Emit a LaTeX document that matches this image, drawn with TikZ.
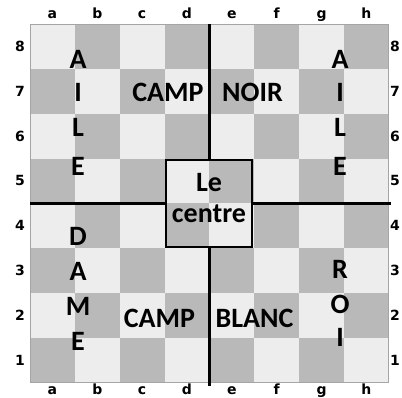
\documentclass[tikz,border=0pt]{standalone}
\usepackage{fontspec}
\newfontfamily\carlitofont{Carlito}
\newfontfamily\labfont{DejaVu Sans}
\definecolor{sqlight}{HTML}{EDEDED}
\definecolor{sqdark}{HTML}{B9B9B9}
\definecolor{rimgrey}{HTML}{A5A5A5}
\begin{document}
\begin{tikzpicture}[x=1pt,y=-1pt,
  big/.style={font=\carlitofont\bfseries\fontsize{28}{34}\selectfont, inner sep=0pt, anchor=base},
  coordlab/.style={font=\labfont\bfseries\fontsize{14}{16}\selectfont, inner sep=0pt, anchor=base},
  divider/.style={line width=3pt, black},
  centrebox/.style={draw=black, line width=1.6pt}]
\useasboundingbox (0,0) rectangle (402,398);
\clip (0,0) rectangle (402,398);
\fill[white] (0,0) rectangle (402,398);
\def\sq{44.85}
% board squares
\foreach \i in {0,...,7}{
  \foreach \r in {0,...,7}{
    \pgfmathtruncatemacro{\sqparity}{mod(\i+\r,2)}
    \ifnum\sqparity=1
      \fill[sqdark] ({30+\i*\sq},{24+\r*\sq}) rectangle ++(\sq,\sq);
    \else
      \fill[sqlight] ({30+\i*\sq},{24+\r*\sq}) rectangle ++(\sq,\sq);
    \fi
  }
}
\draw[rimgrey, line width=0.8pt] (30,24) rectangle ({30+8*\sq},{24+8*\sq});
% file and rank labels
\foreach \f [count=\k from 0] in {a,b,c,d,e,f,g,h}{
  \node[coordlab] (top\f) at ({30+(\k+0.5)*\sq},19) {\f};
  \node[coordlab] (bot\f) at ({30+(\k+0.5)*\sq},394) {\f};
}
\foreach \n in {1,...,8}{
  \node[coordlab] (left\n) at (20,{24+(8.5-\n)*\sq+5}) {\n};
  \node[coordlab] (right\n) at (395,{24+(8.5-\n)*\sq+5}) {\n};
}
% centre box
\node[centrebox, minimum width=86pt, minimum height=87pt, inner sep=0pt] (box) at (209,203.5) {};
\coordinate (vtop) at (209.4,24);
\coordinate (vbot) at (209.4,386);
\coordinate (hleft) at (30,203.4);
\coordinate (hright) at (391,203.4);
\draw[divider] (vtop) -- (vtop |- box.north);
\draw[divider] (vbot |- box.south) -- (vbot);
\draw[divider] (hleft) -- (hleft -| box.west);
\draw[divider] (hright -| box.east) -- (hright);
\node[big] (le) at (209,192) {Le};
\node[big] (centre) at (209,223) {centre};
% camp labels
\node[big] (campn) at (168,102) {CAMP};
\node[big] (noir) at (252.5,102) {NOIR};
\node[big] (campb) at (159.5,328) {CAMP};
\node[big] (blanc) at (254.5,328) {BLANC};
% wings
\node[big] (la1) at (78,69) {A};
\node[big] (la2) at (78,102) {I};
\node[big] (la3) at (78,137) {L};
\node[big] (la4) at (78,176) {E};
\node[big] (ld1) at (78,246) {D};
\node[big] (ld2) at (78,281) {A};
\node[big] (ld3) at (78,316) {M};
\node[big] (ld4) at (78,351) {E};
\node[big] (ra1) at (340,69) {A};
\node[big] (ra2) at (340,102) {I};
\node[big] (ra3) at (340,137) {L};
\node[big] (ra4) at (340,176) {E};
\node[big] (rr1) at (340,279) {R};
\node[big] (rr2) at (340,314) {O};
\node[big] (rr3) at (340,346) {I};
\end{tikzpicture}
\end{document}
